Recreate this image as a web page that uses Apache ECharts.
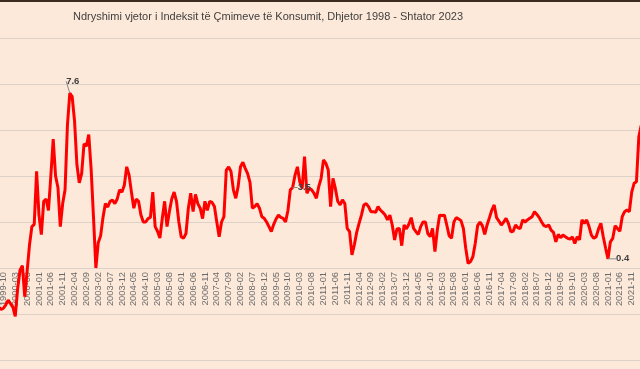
<!DOCTYPE html>
<html>
<head>
<meta charset="utf-8">
<script src="https://cdn.jsdelivr.net/npm/echarts@6/dist/echarts.min.js"></script>
<style>
html,body{margin:0;padding:0;background:#FDE9D9;}
#chart{width:640px;height:369px;}
</style>
</head>
<body>
<div id="chart"></div>
<script>
// Title
var titleText = 'Ndryshimi vjetor i Indeksit të Çmimeve të Konsumit, Dhjetor 1998 - Shtator 2023';

// Monthly categories start: December 1998 (visible part of the chart runs to early 2022)
var startYear = 1998, startMonth = 12, monthCount = 280;

// Annual CPI change (%), one row per year (Jan..Dec), first row = Dec 1998
var inflation = [
  8.7,
  6.0, 3.8, 2.4, 1.0, 0.2, -0.6, -1.2, -1.7, -1.8, -1.75, -1.6, -1.4,
  -1.55, -1.7, -2.1, -0.9, -0.1, 0.1, -1.25, -0.15, 1.0, 1.8, 1.9, 4.2,
  2.3, 1.45, 2.9, 3.0, 2.5, 4.0, 5.6, 4.0, 3.5, 1.8, 2.8, 3.4,
  6.2, 7.6, 7.45, 6.4, 4.5, 3.7, 4.1, 5.4, 5.3, 5.8, 4.3, 2.2,
  0.0, 1.1, 1.4, 2.2, 2.8, 2.65, 2.9, 2.95, 2.8, 3.0, 3.4, 3.3,
  3.6, 4.4, 4.05, 3.3, 2.6, 3.0, 2.9, 2.3, 2.0, 2.0, 2.15, 2.2,
  3.3, 1.8, 1.6, 1.3, 2.15, 2.9, 1.8, 2.45, 3.0, 3.3, 2.9, 2.0,
  1.35, 1.3, 1.5, 2.6, 3.25, 2.45, 3.2, 2.8, 2.6, 2.15, 2.9, 2.5,
  2.9, 2.85, 2.67, 2.0, 1.36, 2.0, 2.23, 4.26, 4.4, 4.19, 3.4, 3.03,
  3.54, 4.4, 4.6, 4.33, 4.1, 3.72, 2.6, 2.67, 2.8, 2.6, 2.23, 2.16,
  2.0, 1.8, 1.58, 1.9, 2.13, 2.3, 2.2, 2.16, 2.0, 2.5, 3.4, 3.5,
  4.04, 4.4, 3.75, 3.46, 4.84, 3.25, 3.46, 3.4, 3.25, 3.03, 3.54, 3.9,
  4.7, 4.55, 4.26, 2.67, 3.9, 3.46, 2.9, 2.74, 2.96, 2.8, 1.72, 1.58,
  0.57, 1.0, 1.55, 1.94, 2.3, 2.74, 2.8, 2.67, 2.45, 2.45, 2.42, 2.67,
  2.52, 2.42, 2.3, 2.09, 2.3, 1.87, 1.22, 1.7, 1.72, 0.97, 1.87, 1.7,
  1.9, 2.19, 1.72, 1.58, 1.46, 1.8, 2.0, 2.0, 1.5, 1.36, 1.72, 0.71,
  1.65, 2.3, 2.28, 2.3, 1.87, 1.4, 1.29, 2.0, 2.19, 2.13, 2.06, 1.72,
  0.86, 0.2, 0.28, 0.49, 1.07, 1.84, 2.0, 1.84, 1.46, 1.87, 2.19, 2.52,
  2.74, 2.19, 2.04, 1.87, 2.0, 2.16, 1.94, 1.58, 1.6, 1.87, 1.75, 1.72,
  2.09, 2.0, 2.09, 2.16, 2.23, 2.45, 2.33, 2.19, 2.0, 1.84, 1.8, 1.87,
  1.65, 1.55, 1.14, 1.46, 1.32, 1.43, 1.36, 1.29, 1.26, 1.35, 1.07, 1.36,
  1.22, 2.09, 1.94, 2.09, 1.8, 1.43, 1.29, 1.36, 1.7, 1.94, 1.36, 0.86,
  0.4, 1.14, 1.29, 1.84, 1.72, 1.6, 2.23, 2.45, 2.52, 2.45, 3.3, 3.68,
  3.75, 5.7, 6.2
];

// Labelled points
var labelMonths = ['2002-02', '2009-12', '2021-01'];
var labelTexts = ['7.6', '3.5', '0.4'];

// Value axis
var yMin = -4, yMax = 10, yStep = 2;

var months = [];
for (var k = 0; k < monthCount; k++) {
  var m0 = startMonth - 1 + k;
  var yy = startYear + Math.floor(m0 / 12);
  var mm = (m0 % 12) + 1;
  months.push(yy + '-' + (mm < 10 ? '0' + mm : mm));
}

var FONT = '"Liberation Sans", Arial, sans-serif';
var gridColor = '#DDD2C9';
var gridTop = 38, gridBottom = 9, chartH = 369;
// place the category axis on the zero line of the value axis
var plotH = chartH - gridTop - gridBottom;
var zeroOffset = -plotH * (0 - yMin) / (yMax - yMin);

var seriesData = inflation.map(function (v, i) {
  var li = labelMonths.indexOf(months[i]);
  if (li < 0) return v;
  var lbl = {
    show: true,
    formatter: labelTexts[li],
    fontFamily: FONT,
    fontSize: 9.5,
    fontWeight: 'bold',
    color: '#404040'
  };
  if (li === 0) { lbl.position = 'top'; lbl.distance = 6; }
  else if (li === 1) { lbl.position = 'right'; lbl.distance = 5; lbl.offset = [0, -6]; }
  else { lbl.position = 'right'; lbl.distance = 8; }
  return { value: v, label: lbl };
});

var chart = echarts.init(document.getElementById('chart'), null, { renderer: 'canvas' });
chart.setOption({
  animation: false,
  backgroundColor: '#FDE9D9',
  title: {
    text: titleText,
    left: 263,
    top: 12,
    textAlign: 'center',
    textVerticalAlign: 'middle',
    textStyle: { fontFamily: FONT, fontSize: 11, fontWeight: 'normal', color: '#404040' }
  },
  graphic: [{
    type: 'rect', shape: { x: 0, y: 0, width: 640, height: 2 },
    style: { fill: '#3a2a20' }, silent: true
  }],
  grid: { left: -20.3, right: -1.2, top: gridTop, bottom: gridBottom, containLabel: false, outerBoundsMode: 'none' },
  xAxis: {
    type: 'category',
    data: months,
    boundaryGap: false,
    position: 'bottom',
    offset: zeroOffset,
    axisTick: { show: false },
    axisLine: { show: true, onZero: false, lineStyle: { color: gridColor, width: 1 } },
    axisLabel: {
      interval: function (idx) { return idx % 5 === 0; },
      rotate: 90, margin: 4,
      fontFamily: FONT, fontSize: 9.3, color: '#6a6a6a'
    },
    splitLine: { show: false }
  },
  yAxis: {
    type: 'value',
    min: yMin, max: yMax, interval: yStep,
    axisLabel: { show: false },
    axisLine: { show: false },
    axisTick: { show: false },
    splitLine: { show: true, lineStyle: { color: gridColor, width: 1 } }
  },
  series: [{
    type: 'line',
    data: seriesData,
    symbol: 'circle',
    symbolSize: 0,
    showSymbol: true,
    showAllSymbol: true,
    silent: true,
    z: 3,
    lineStyle: { color: '#FF0000', width: 3 },
    itemStyle: { color: '#FF0000' },
    labelLayout: function (p) {
      if (p.dataIndex === months.indexOf(labelMonths[0])) return { dx: 3, dy: -1 };
      return {};
    },
    labelLine: { show: true, length2: 0, lineStyle: { color: '#8a8a8a', width: 1 } }
  }]
});
</script>
</body>
</html>
